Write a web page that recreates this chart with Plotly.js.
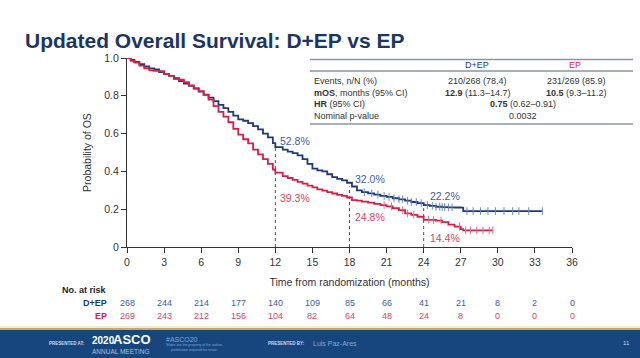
<!DOCTYPE html>
<html><head><meta charset="utf-8">
<script src="https://cdn.plot.ly/plotly-3.0.1.min.js"></script>
<style>html,body{margin:0;padding:0;background:#fff}#chart{width:640px;height:358px}</style>
</head><body><div id="chart"></div>
<script>
// ---- Data ----
const depTime = [0,0.3,0.6,1.0,1.4,1.8,2.2,2.6,3.0,3.4,3.8,4.2,4.6,5.0,5.4,5.8,6.2,6.6,7.0,7.4,7.8,8.2,8.6,9.0,9.4,9.8,10.2,10.6,11.0,11.4,11.8,12.0,12.6,13.0,13.4,13.8,14.2,14.6,15.0,15.4,15.8,16.2,16.6,17.0,17.4,17.8,18.2,18.6,19.0,19.5,20.0,20.5,21.0,21.5,22.0,22.5,23.0,23.5,24.0,24.5,25.0,25.5,26.0,26.5,27.0,27.2,33.6];
const depSurv = [1.0,0.99,0.98,0.968,0.955,0.945,0.94,0.925,0.915,0.905,0.89,0.878,0.865,0.852,0.838,0.822,0.806,0.79,0.772,0.752,0.735,0.715,0.695,0.675,0.668,0.655,0.64,0.622,0.6,0.58,0.55,0.528,0.515,0.505,0.497,0.485,0.465,0.44,0.415,0.405,0.4,0.385,0.37,0.36,0.352,0.34,0.32,0.3,0.29,0.284,0.277,0.27,0.265,0.258,0.252,0.245,0.238,0.232,0.222,0.218,0.213,0.211,0.21,0.209,0.208,0.19,0.19];
const epTime = [0,0.3,0.6,1.0,1.4,1.8,2.2,2.6,3.0,3.4,3.8,4.2,4.6,5.0,5.4,5.8,6.2,6.6,7.0,7.4,7.8,8.2,8.6,9.0,9.4,9.8,10.2,10.6,11.0,11.4,11.8,12.0,12.6,13.0,13.4,13.8,14.2,14.6,15.0,15.4,15.8,16.2,16.6,17.0,17.4,17.8,18.2,18.6,19.0,19.5,20.0,20.5,21.0,21.5,22.0,22.5,23.0,23.5,24.0,24.5,25.0,25.5,26.0,26.5,27.0,27.2,29.6];
const epSurv = [1.0,0.985,0.975,0.96,0.945,0.935,0.932,0.93,0.915,0.905,0.895,0.885,0.872,0.855,0.84,0.825,0.805,0.78,0.745,0.715,0.69,0.66,0.625,0.595,0.57,0.548,0.515,0.49,0.465,0.44,0.41,0.393,0.375,0.365,0.355,0.345,0.335,0.325,0.315,0.305,0.298,0.29,0.283,0.276,0.27,0.262,0.248,0.245,0.24,0.235,0.228,0.222,0.215,0.205,0.195,0.178,0.17,0.16,0.144,0.143,0.14,0.132,0.118,0.108,0.095,0.088,0.088];
const depCensor = [19.2,19.8,20.3,20.8,21.2,21.6,22.0,22.3,22.7,23.0,23.4,23.8,24.3,24.7,25.0,25.3,25.5,25.7,26.0,26.3,27.5,28.0,28.6,29.2,29.8,30.5,31.2,31.7,32.5,33.6];
const epCensor = [20.8,21.4,22.3,22.7,23.2,24.4,24.8,25.4,26.9,27.4,27.8,28.3,28.8,29.3,29.6];
const landmarkMonths = [12, 18, 24];
const depLandmark = [52.8, 32.0, 22.2];
const epLandmark = [39.3, 24.8, 14.4];
const riskTimes = [0,3,6,9,12,15,18,21,24,27,30,33,36];
const riskDEP = [268,244,214,177,140,109,85,66,41,21,8,2,0];
const riskEP = [269,243,212,156,104,82,64,48,24,8,0,0,0];
const yTickVals = [0,0.2,0.4,0.6,0.8,1.0];
const yTickText = ['0','0.2','0.4','0.6','0.8','1.0'];
const tableRows = [
  ['Events, n/N (%)', '210/268 (78.4)', '231/269 (85.9)'],
  ['<b>mOS</b>, months (95% CI)', '<b>12.9</b> (11.3–14.7)', '<b>10.5</b> (9.3–11.2)'],
  ['<b>HR</b> (95% CI)', '<b>0.75</b> (0.62–0.91)', null],
  ['Nominal p-value', '0.0032', null]
];

// ---- Styling / geometry ----
const BLUE = '#1f3a78', RED = '#d71f47';
const BLUE_T = '#3d5e9e', RED_T = '#d9445f';
const L = 127, T = 58, R = 68, B = 111, W = 640 - L - R, H = 358 - T - B;
const px = p => (p - L) / W;
const py = p => (T + H - p) / H;
const FONT = 'Liberation Sans, Arial, sans-serif';

function stepAt(ts, ss, t) { let v = ss[0]; for (let i = 0; i < ts.length; i++) { if (ts[i] <= t) v = ss[i]; } return v; }

const traces = [
  {x: depTime, y: depSurv, type: 'scatter', mode: 'lines', line: {shape: 'hv', color: BLUE, width: 1.8}, name: 'D+EP'},
  {x: epTime, y: epSurv, type: 'scatter', mode: 'lines', line: {shape: 'hv', color: RED, width: 1.8}, name: 'EP'},
  {x: depCensor, y: depCensor.map(t => stepAt(depTime, depSurv, t)), type: 'scatter', mode: 'markers',
   marker: {symbol: 'line-ns', size: 5.5, line: {color: '#6a86c2', width: 1}}, cliponaxis: false},
  {x: epCensor, y: epCensor.map(t => stepAt(epTime, epSurv, t)), type: 'scatter', mode: 'markers',
   marker: {symbol: 'line-ns', size: 5.5, line: {color: '#e56a84', width: 1}}, cliponaxis: false}
];

const shapes = [];
const annotations = [];

// landmark dotted lines and labels
const lmOffsets = [[12.24, 0.563, 0.259], [18.3, 0.361, 0.158], [24.37, 0.27, 0.046]];
landmarkMonths.forEach((m, i) => {
  shapes.push({type: 'line', xref: 'x', yref: 'y', x0: m, x1: m, y0: 0, y1: depLandmark[i] / 100,
    line: {color: '#555', width: 1, dash: 'dot'}});
  annotations.push({xref: 'x', yref: 'y', x: lmOffsets[i][0], y: lmOffsets[i][1], xanchor: 'left', yanchor: 'middle',
    text: depLandmark[i].toFixed(1) + '%', showarrow: false, font: {family: FONT, size: 10.5, color: BLUE_T}});
  annotations.push({xref: 'x', yref: 'y', x: lmOffsets[i][0], y: lmOffsets[i][2], xanchor: 'left', yanchor: 'middle',
    text: epLandmark[i].toFixed(1) + '%', showarrow: false, font: {family: FONT, size: 10.5, color: RED_T}});
});

// summary table
shapes.push({type: 'line', xref: 'paper', yref: 'paper', x0: px(310), x1: px(633), y0: py(59.5), y1: py(59.5), line: {color: '#8b94a3', width: 1.5}});
shapes.push({type: 'line', xref: 'paper', yref: 'paper', x0: px(310), x1: px(633), y0: py(71), y1: py(71), line: {color: '#8b94a3', width: 1.5}});
shapes.push({type: 'line', xref: 'paper', yref: 'paper', x0: px(310), x1: px(633), y0: py(124), y1: py(124), line: {color: '#8b94a3', width: 1.5}});
annotations.push({xref: 'paper', yref: 'paper', x: px(477), y: py(65), text: 'D+EP', showarrow: false, xanchor: 'center', yanchor: 'middle', font: {family: FONT, size: 9, color: BLUE}});
annotations.push({xref: 'paper', yref: 'paper', x: px(575), y: py(65), text: 'EP', showarrow: false, xanchor: 'center', yanchor: 'middle', font: {family: FONT, size: 9, color: RED}});
const rowY = [80.7, 92.7, 104, 116];
tableRows.forEach((r, i) => {
  annotations.push({xref: 'paper', yref: 'paper', x: px(312), y: py(rowY[i]), text: r[0], showarrow: false, xanchor: 'left', yanchor: 'middle', font: {family: FONT, size: 9, color: '#333'}});
  if (r[2] !== null) {
    annotations.push({xref: 'paper', yref: 'paper', x: px(477), y: py(rowY[i]), text: r[1], showarrow: false, xanchor: 'center', yanchor: 'middle', font: {family: FONT, size: 9, color: '#333'}});
    annotations.push({xref: 'paper', yref: 'paper', x: px(576), y: py(rowY[i]), text: r[2], showarrow: false, xanchor: 'center', yanchor: 'middle', font: {family: FONT, size: 9, color: '#333'}});
  } else {
    annotations.push({xref: 'paper', yref: 'paper', x: px(523), y: py(rowY[i]), text: r[1], showarrow: false, xanchor: 'center', yanchor: 'middle', font: {family: FONT, size: 9, color: '#333'}});
  }
});

// risk table
annotations.push({xref: 'paper', yref: 'paper', x: px(109), y: py(290), text: '<b>No. at risk</b>', showarrow: false, xanchor: 'right', yanchor: 'middle', font: {family: FONT, size: 9, color: '#222'}});
annotations.push({xref: 'paper', yref: 'paper', x: px(109), y: py(303), text: '<b>D+EP</b>', showarrow: false, xanchor: 'right', yanchor: 'middle', font: {family: FONT, size: 9, color: BLUE}});
annotations.push({xref: 'paper', yref: 'paper', x: px(109), y: py(316), text: '<b>EP</b>', showarrow: false, xanchor: 'right', yanchor: 'middle', font: {family: FONT, size: 9, color: RED}});
riskTimes.forEach((t, i) => {
  annotations.push({xref: 'x', yref: 'paper', x: t, y: py(303), text: String(riskDEP[i]), showarrow: false, xanchor: 'center', yanchor: 'middle', font: {family: FONT, size: 9, color: BLUE_T}});
  annotations.push({xref: 'x', yref: 'paper', x: t, y: py(316), text: String(riskEP[i]), showarrow: false, xanchor: 'center', yanchor: 'middle', font: {family: FONT, size: 9, color: RED_T}});
});

// footer
shapes.push({type: 'rect', xref: 'paper', yref: 'paper', x0: px(0), x1: px(640), y0: py(326), y1: py(328), fillcolor: '#f4ead2', line: {width: 0}});
shapes.push({type: 'rect', xref: 'paper', yref: 'paper', x0: px(0), x1: px(640), y0: py(328), y1: py(330), fillcolor: '#c9a862', line: {width: 0}});
shapes.push({type: 'rect', xref: 'paper', yref: 'paper', x0: px(0), x1: px(640), y0: py(330), y1: py(358), fillcolor: '#17467e', line: {width: 0}});
const foot = (x, y, text, size, color, anchor) => annotations.push({xref: 'paper', yref: 'paper', x: px(x), y: py(y), text, showarrow: false, xanchor: anchor || 'left', yanchor: 'middle', borderpad: 0, font: {family: FONT, size, color}});
foot(48, 343, '<b>PRESENTED AT:</b>', 4.5, '#d0d8e8');
foot(91, 340, '<b>2020</b>', 10, '#ffffff');
foot(112, 339.5, '<b>ASCO</b>', 13, '#ffffff');
foot(91, 351.5, 'ANNUAL MEETING', 6.5, '#a9c0dc');
foot(165, 339, '#ASCO20', 7, '#7fa8dc');
foot(165, 347, 'Slides are the property of the author,<br>permission required for reuse.', 3.5, '#7fa8dc');
foot(267, 343, '<b>PRESENTED BY:</b>', 4.5, '#d0d8e8');
foot(312, 343, 'Luis Paz-Ares', 7, '#7fa8dc');
foot(626, 343, '11', 6, '#c8d4e6', 'center');

const layout = {
  width: 640, height: 358,
  margin: {l: L, r: R, t: T, b: B, pad: 0},
  paper_bgcolor: '#ffffff', plot_bgcolor: '#ffffff',
  showlegend: false,
  font: {family: FONT, color: '#333'},
  title: {text: '<b>Updated Overall Survival: D+EP vs EP</b>', xref: 'container', yref: 'container', x: 25 / 640, y: 1 - 41 / 358, xanchor: 'left', yanchor: 'middle', font: {family: FONT, size: 21, color: '#1b3565'}},
  xaxis: {range: [0, 36], tickvals: riskTimes, ticks: 'outside', ticklen: 5, tickcolor: '#333', showline: true, linecolor: '#333', linewidth: 1,
    showgrid: false, zeroline: false, tickfont: {family: FONT, size: 10.5, color: '#333'},
    title: {text: 'Time from randomization (months)', standoff: 12, font: {family: FONT, size: 10.5, color: '#333'}}},
  yaxis: {range: [0, 1.0], tickvals: yTickVals, ticktext: yTickText, ticks: 'outside', ticklen: 5, tickcolor: '#333', showline: true, linecolor: '#333', linewidth: 1,
    showgrid: false, zeroline: false, tickfont: {family: FONT, size: 10.5, color: '#333'},
    title: {text: 'Probability of OS', standoff: 10, font: {family: FONT, size: 10.5, color: '#333'}}},
  shapes, annotations
};

Plotly.newPlot('chart', traces, layout, {staticPlot: true, displayModeBar: false});
</script></body></html>
